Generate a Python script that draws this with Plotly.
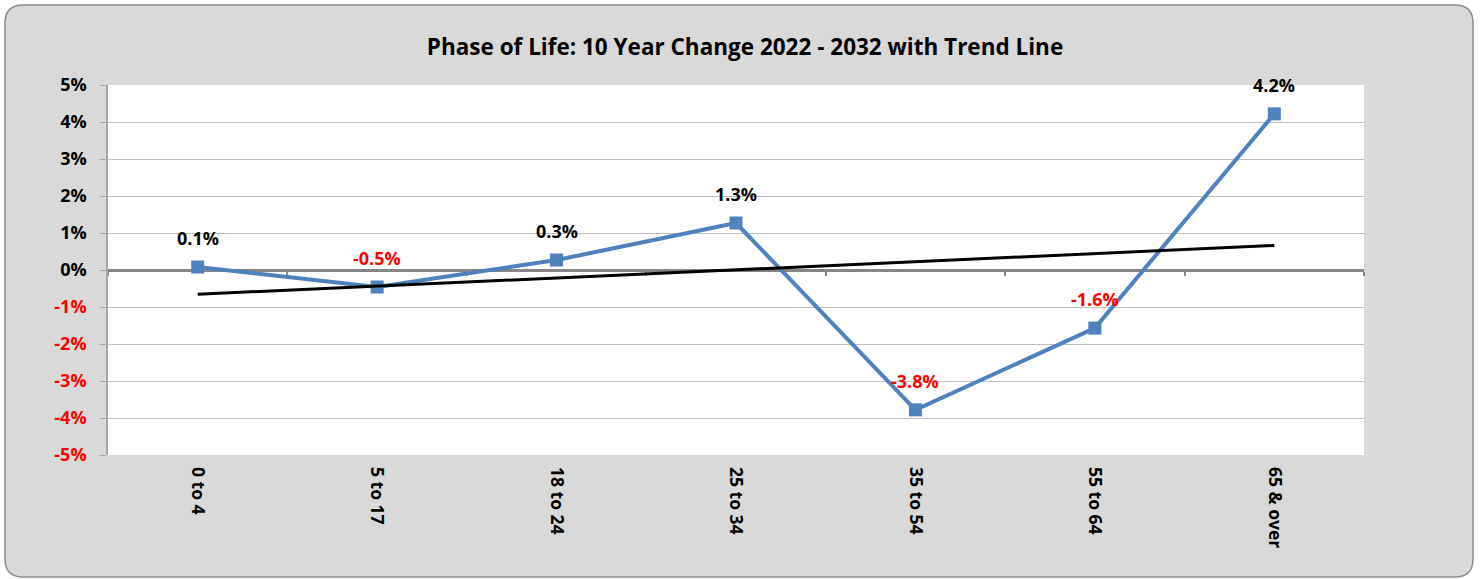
import numpy as np
import plotly.graph_objects as go

categories = ["0 to 4", "5 to 17", "18 to 24", "25 to 34", "35 to 54", "55 to 64", "65 & over"]
change_pct = [0.08, -0.46, 0.27, 1.27, -3.78, -1.57, 4.22]
label_text = ["0.1%", "-0.5%", "0.3%", "1.3%", "-3.8%", "-1.6%", "4.2%"]
y_ticks = [5, 4, 3, 2, 1, 0, -1, -2, -3, -4, -5]
title_text = "Phase of Life: 10 Year Change 2022 - 2032 with Trend Line"

FONT = "Open Sans"
BLUE = "#4F81BD"
RED = "#FF0000"

# linear trend line (least squares over category index)
idx = np.arange(len(categories))
slope, intercept = np.polyfit(idx, change_pct, 1)
trend = list(slope * idx + intercept)

W, H = 1480, 579
ML, MR, MT, MB = 108, 116, 85, 124
PW, PH = W - ML - MR, H - MT - MB

def px(x):
    return (x - ML) / PW

def py(y):
    return (H - MB - y) / PH

fig = go.Figure()

# trend line on overlay axis (which also draws the zero line with its ticks)
fig.add_trace(go.Scatter(
    x=categories, y=trend, mode="lines", xaxis="x2", yaxis="y",
    line=dict(color="black", width=3), hoverinfo="skip", showlegend=False,
))
fig.add_trace(go.Scatter(
    x=categories, y=change_pct, mode="lines+markers",
    line=dict(color=BLUE, width=4),
    marker=dict(symbol="square", size=13, color=BLUE),
    showlegend=False,
))

for c, v, t in zip(categories, change_pct, label_text):
    fig.add_annotation(
        x=c, y=v, text=f"<b>{t}</b>", showarrow=False, yshift=29,
        font=dict(family=FONT, size=18, color=RED if v < 0 else "black"),
    )

def tick_label(v):
    col = RED if v < 0 else "black"
    return f'<span style="color:{col}"><b>{v}%</b></span>'

# background: rounded gray panel + white plot area
r = 18
x0, x1, y0, y1 = 5, 1473, 5, 577
path = (
    f"M {px(x0 + r)} {py(y0)} L {px(x1 - r)} {py(y0)} Q {px(x1)} {py(y0)} {px(x1)} {py(y0 + r)} "
    f"L {px(x1)} {py(y1 - r)} Q {px(x1)} {py(y1)} {px(x1 - r)} {py(y1)} "
    f"L {px(x0 + r)} {py(y1)} Q {px(x0)} {py(y1)} {px(x0)} {py(y1 - r)} "
    f"L {px(x0)} {py(y0 + r)} Q {px(x0)} {py(y0)} {px(x0 + r)} {py(y0)} Z"
)
fig.add_shape(type="path", path=path, xref="paper", yref="paper", layer="below",
              fillcolor="#D9D9D9", line=dict(color="#8C8C8C", width=1.5))
fig.add_shape(type="rect", x0=0, x1=1, y0=0, y1=1, xref="paper", yref="paper",
              layer="below", fillcolor="white", line=dict(width=0))

fig.update_layout(
    width=W, height=H,
    margin=dict(l=ML, r=MR, t=MT, b=MB),
    paper_bgcolor="white", plot_bgcolor="white",
    font=dict(family=FONT, color="black"),
    title=dict(text=f"<b>{title_text}</b>", x=(745 - ML) / PW, xref="paper", y=1 - 47 / H,
               yref="container", yanchor="middle", xanchor="center",
               font=dict(family=FONT, size=22.5, color="black")),
    xaxis=dict(
        type="category", categoryorder="array", categoryarray=categories,
        range=[-0.5, len(categories) - 0.5],
        tickangle=90, showgrid=False, zeroline=False, showline=False,
        ticks="", ticklabelstandoff=11,
        tickfont=dict(family=FONT, size=17.5, color="black"),
        tickvals=categories, ticktext=[f"<b>{c}</b>" for c in categories],
    ),
    xaxis2=dict(
        type="category", categoryorder="array", categoryarray=categories,
        range=[-0.5, len(categories) - 0.5],
        overlaying="x", anchor="free", position=0.5, side="bottom",
        showticklabels=False, showgrid=False, zeroline=False,
        showline=True, linecolor="#868686", linewidth=3,
        ticks="outside", tickson="boundaries", ticklen=4, tickwidth=2,
        tickcolor="#868686", layer="below traces",
    ),
    yaxis=dict(
        range=[-5, 5], tickvals=y_ticks, ticktext=[tick_label(v) for v in y_ticks],
        showgrid=True, gridcolor="#BFBFBF", gridwidth=1.3, zeroline=False,
        showline=True, linecolor="#A6A6A6", linewidth=1.5,
        ticks="outside", ticklen=6, tickcolor="#A6A6A6", tickwidth=1.3,
        ticklabelstandoff=10,
        tickfont=dict(family=FONT, size=18, color="black"),
    ),
)

fig.write_html("out.html", config={"displayModeBar": False},
               post_script="document.body.style.margin='0';document.body.style.padding='0';")
